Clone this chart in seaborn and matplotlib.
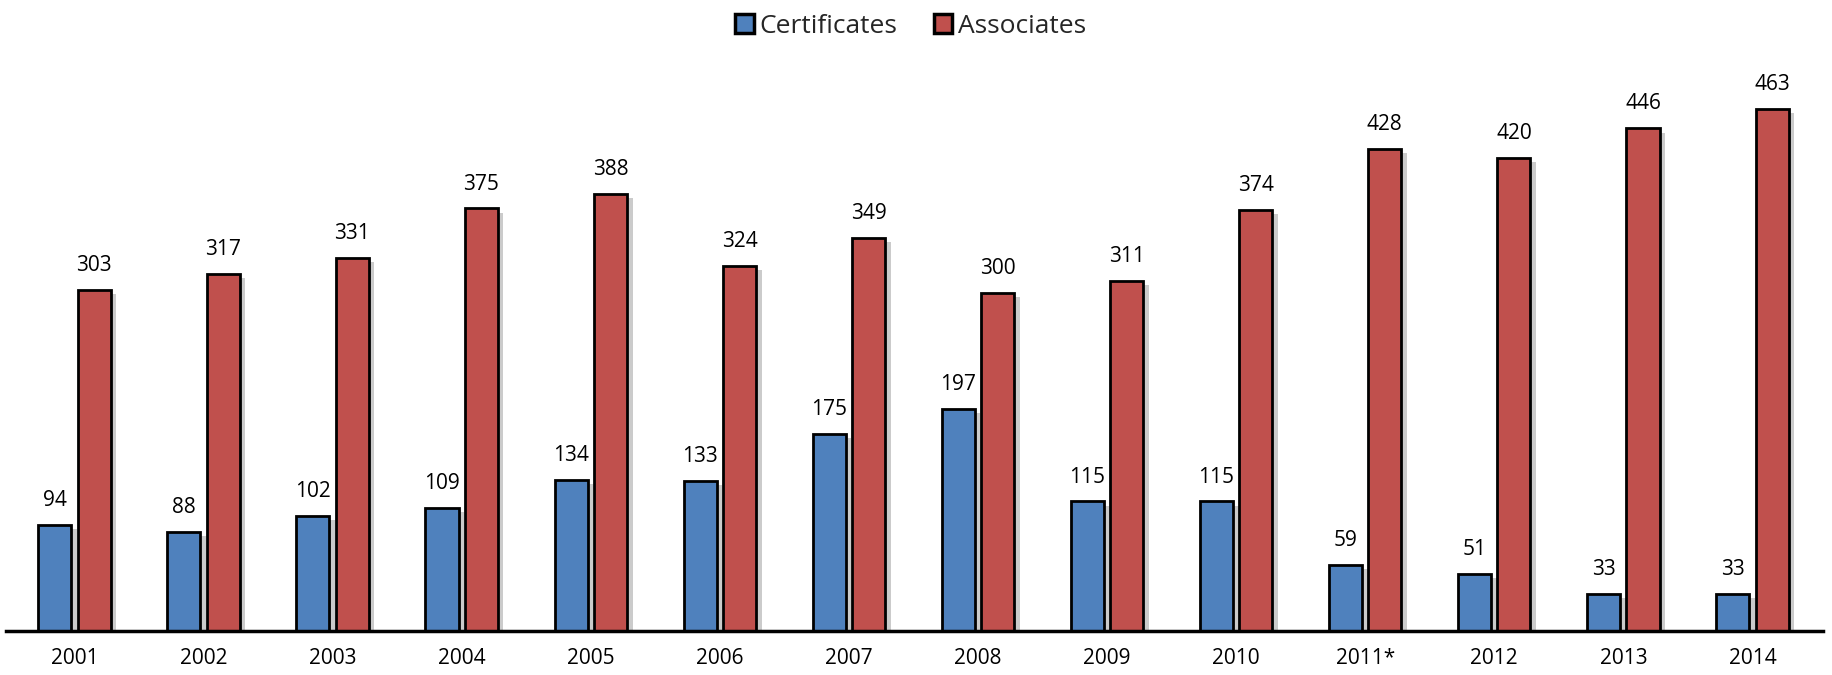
import matplotlib
matplotlib.use("Agg")
import matplotlib.pyplot as plt
import matplotlib.patheffects as pe
from matplotlib.patches import Patch
import seaborn as sns
import pandas as pd

years = ["2001", "2002", "2003", "2004", "2005", "2006", "2007", "2008", "2009", "2010", "2011*", "2012", "2013", "2014"]
certificates = [94, 88, 102, 109, 134, 133, 175, 197, 115, 115, 59, 51, 33, 33]
associates = [303, 317, 331, 375, 388, 324, 349, 300, 311, 374, 428, 420, 446, 463]
series = ["Certificates", "Associates"]
colors = ["#4F81BD", "#C0504D"]

df = pd.DataFrame({
    "year": years * 2,
    "value": certificates + associates,
    "series": [series[0]] * len(years) + [series[1]] * len(years),
})

sns.set_theme(style="white")
plt.rcParams["font.family"] = ["Open Sans", "DejaVu Sans"]

fig = plt.figure(figsize=(18.32, 6.75), dpi=100)
ax = fig.add_axes([0.0033, 0.065, 0.992, 0.835])

sns.barplot(data=df, x="year", y="value", hue="series", palette=colors,
            order=years, hue_order=series, width=0.61, gap=0.16, saturation=1,
            edgecolor="black", linewidth=2, ax=ax, legend=False)

shadow = [pe.SimplePatchShadow(offset=(4, -3), shadow_rgbFace="#999999", alpha=0.5), pe.Normal()]
for p in ax.patches:
    p.set_path_effects(shadow)

for cont in ax.containers:
    ax.bar_label(cont, padding=10, fontsize=15, color="black")

ax.set_ylim(0, 500)
ax.set_xlim(-0.53, len(years) - 1 + 0.55)
ax.set_xlabel("")
ax.set_ylabel("")
ax.set_yticks([])
for s in ["top", "right", "left"]:
    ax.spines[s].set_visible(False)
ax.spines["bottom"].set_color("black")
ax.spines["bottom"].set_linewidth(2.5)
ax.tick_params(axis="x", labelsize=15, length=0, pad=12, colors="black")

handles = [Patch(facecolor=c, edgecolor="black", linewidth=2.5, label=s) for c, s in zip(colors, series)]
fig.legend(handles=handles, loc="upper center", bbox_to_anchor=(0.497, 1.015), ncol=2, frameon=False,
           fontsize=19, handlelength=0.7, handleheight=0.7, handletextpad=0.2, columnspacing=1.4)

fig.savefig("out.png", dpi=100)
